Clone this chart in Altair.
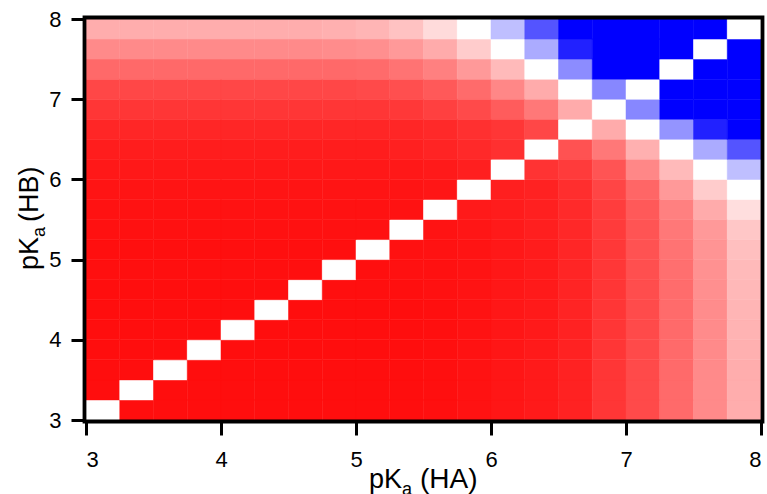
import altair as alt
import pandas as pd

# Lower edges of the pKa bins (each bin is 0.25 wide)
ha_lo = [3.00, 3.25, 3.50, 3.75, 4.00, 4.25, 4.50, 4.75, 5.00, 5.25,
         5.50, 5.75, 6.00, 6.25, 6.50, 6.75, 7.00, 7.25, 7.50, 7.75]
hb_lo = [3.00, 3.25, 3.50, 3.75, 4.00, 4.25, 4.50, 4.75, 5.00, 5.25,
         5.50, 5.75, 6.00, 6.25, 6.50, 6.75, 7.00, 7.25, 7.50, 7.75]
bin_width = 0.25

# Signed response per cell, one list per pKa(HB) band, ordered by pKa(HA).
# Positive values shade red, negative values shade blue, zero is white.
hb_3_00 = [0, .945, .945, .945, .945, .945, .945, .945, .945, .945, .94, .93, .915, .90, .865, .79, .71, .585, .46, .32]
hb_3_25 = [.945, 0, .945, .945, .945, .945, .945, .945, .945, .945, .94, .93, .915, .90, .865, .79, .71, .585, .46, .32]
hb_3_50 = [.945, .945, 0, .945, .945, .945, .945, .945, .945, .945, .94, .93, .915, .90, .865, .79, .71, .585, .46, .32]
hb_3_75 = [.945, .945, .945, 0, .945, .945, .945, .945, .945, .945, .94, .93, .915, .90, .865, .79, .71, .585, .46, .31]
hb_4_00 = [.945, .945, .945, .945, 0, .945, .945, .945, .945, .945, .94, .93, .915, .90, .865, .79, .71, .585, .455, .30]
hb_4_25 = [.945, .945, .945, .945, .945, 0, .945, .945, .945, .945, .94, .93, .91, .90, .86, .79, .705, .58, .45, .29]
hb_4_50 = [.945, .945, .945, .945, .945, .945, 0, .94, .94, .94, .935, .925, .91, .90, .86, .79, .70, .575, .44, .28]
hb_4_75 = [.94, .94, .94, .94, .94, .94, .94, 0, .94, .935, .935, .925, .91, .895, .855, .785, .69, .565, .43, .27]
hb_5_00 = [.94, .94, .94, .94, .94, .94, .94, .94, 0, .935, .93, .92, .905, .89, .85, .78, .68, .55, .42, .25]
hb_5_25 = [.935, .935, .935, .935, .935, .935, .935, .935, .935, 0, .925, .915, .90, .88, .845, .77, .67, .53, .40, .22]
hb_5_50 = [.93, .93, .93, .93, .93, .93, .93, .93, .93, .93, 0, .90, .89, .875, .835, .76, .65, .50, .33, .13]
hb_5_75 = [.92, .92, .92, .92, .92, .92, .92, .92, .92, .92, .915, 0, .88, .865, .82, .73, .60, .40, .20, 0]
hb_6_00 = [.905, .905, .905, .905, .905, .905, .905, .905, .905, .905, .90, .88, 0, .80, .77, .67, .47, .27, 0, -.25]
hb_6_25 = [.885, .885, .885, .885, .885, .885, .885, .885, .885, .875, .86, .84, .81, 0, .68, .53, .31, 0, -.33, -.67]
hb_6_50 = [.85, .85, .85, .85, .85, .85, .85, .85, .85, .85, .84, .81, .79, .72, 0, .33, 0, -.42, -.87, -1]
hb_6_75 = [.79, .79, .79, .79, .79, .79, .79, .79, .79, .78, .75, .71, .64, .53, .33, 0, -.47, -1, -1, -1]
hb_7_00 = [.72, .72, .72, .72, .72, .72, .72, .72, .71, .69, .65, .58, .47, .33, 0, -.47, 0, -1, -1, -1]
hb_7_25 = [.59, .59, .59, .59, .59, .59, .59, .59, .58, .55, .50, .40, .27, 0, -.45, -1, -1, 0, -1, -1]
hb_7_50 = [.46, .46, .46, .46, .46, .46, .46, .45, .44, .40, .33, .20, 0, -.33, -.87, -1, -1, -1, 0, -1]
hb_7_75 = [.32, .32, .32, .32, .32, .32, .32, .31, .29, .24, .14, 0, -.25, -.67, -1, -1, -1, -1, -1, 0]

hb_rows = [hb_3_00, hb_3_25, hb_3_50, hb_3_75, hb_4_00, hb_4_25, hb_4_50,
           hb_4_75, hb_5_00, hb_5_25, hb_5_50, hb_5_75, hb_6_00, hb_6_25,
           hb_6_50, hb_6_75, hb_7_00, hb_7_25, hb_7_50, hb_7_75]

axis_ticks = [3, 4, 5, 6, 7, 8]

records = []
for y0, row in zip(hb_lo, hb_rows):
    for x0, v in zip(ha_lo, row):
        records.append({"ha": x0, "ha2": x0 + bin_width,
                        "hb": y0, "hb2": y0 + bin_width, "v": v})
cells = pd.DataFrame(records)

FONT = "Liberation Sans"
W, H = 675, 401

shade = alt.Scale(domain=[-1, 0, 1], range=["#0000ff", "#ffffff", "#ff0000"],
                  interpolate="rgb")
x_scale = alt.Scale(domain=[3, 8], nice=False, zero=False)
y_scale = alt.Scale(domain=[3, 8], nice=False, zero=False)

axis_style = dict(values=axis_ticks, title=None, domain=False, grid=False,
                  ticks=True, tickSize=15, tickWidth=3, tickColor="black",
                  tickOpacity=1, labelColor="black", labelFont=FONT,
                  labelFontSize=22)

heat = alt.Chart(cells).mark_rect(strokeWidth=0.5).encode(
    x=alt.X("ha:Q", scale=x_scale, axis=alt.Axis(labelPadding=14, **axis_style)),
    x2="ha2:Q",
    y=alt.Y("hb:Q", scale=y_scale, axis=alt.Axis(labelPadding=10, **axis_style)),
    y2="hb2:Q",
    color=alt.Color("v:Q", scale=shade, legend=None),
    stroke=alt.Stroke("v:Q", scale=shade, legend=None),
)

# Heavy black frame around the plot area, drawn above the cells
frame = alt.Chart(pd.DataFrame({"k": [0]})).mark_rect(
    fillOpacity=0, stroke="black", strokeWidth=3.8
).encode(
    x=alt.value(-1.5), x2=alt.value(W + 1.5),
    y=alt.value(-1.5), y2=alt.value(H + 1.5),
)


def label(text, x, y, size=27, angle=0):
    props = dict(text=text, align="left", baseline="alphabetic",
                 font=FONT, fontSize=size, color="black")
    if angle:
        props["angle"] = angle
    return alt.Chart(pd.DataFrame({"k": [0]})).mark_text(**props).encode(
        x=alt.value(x), y=alt.value(y))


# Axis titles with a subscripted "a"
x_title = [label("pK", 283, 469), label("a", 316, 476, size=18),
           label("(HA)", 334, 469, size=28)]
y_title = [label("pK", -48, 251, angle=270), label("a", -41, 218, size=18, angle=270),
           label("(HB)", -48, 203, angle=270)]

chart = alt.layer(heat, frame, *x_title, *y_title).properties(
    width=W, height=H,
    autosize=alt.AutoSizeParams(type="none"),
    padding={"left": 86, "top": 19, "right": 6, "bottom": 74},
).configure_view(
    strokeWidth=0
).configure(background="white")

chart.save("out.html", embed_options={"renderer": "svg", "actions": False})
